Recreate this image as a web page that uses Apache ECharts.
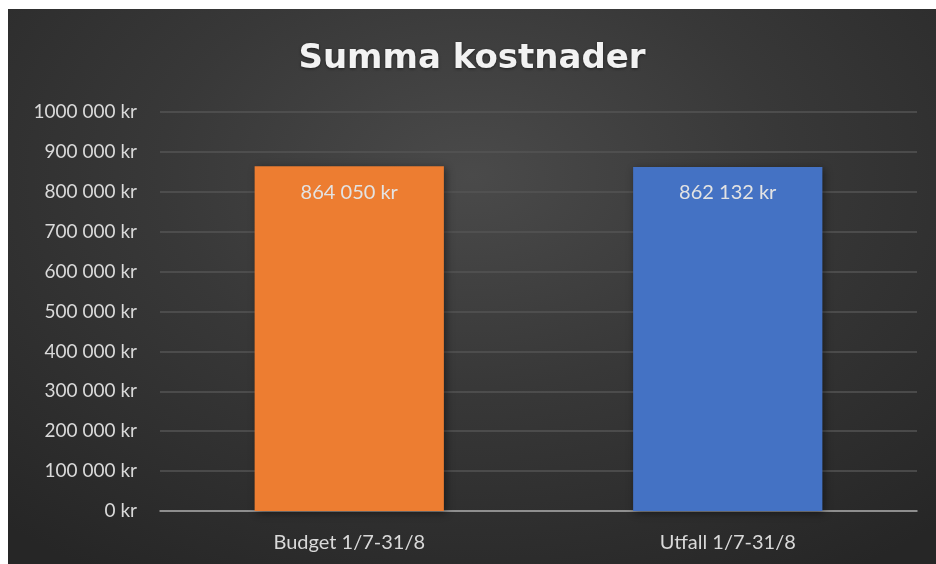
<!DOCTYPE html>
<html>
<head>
<meta charset="utf-8">
<script src="https://cdn.jsdelivr.net/npm/echarts@6/dist/echarts.min.js"></script>
<style>
  html, body { margin: 0; padding: 0; background: #fff; }
  #chart {
    position: absolute; left: 8px; top: 9px; width: 928px; height: 555px;
    background: radial-gradient(ellipse 75% 85% at 50% 30%, #4a4a4a 0%, #383838 45%, #262626 100%);
  }
</style>
</head>
<body>
<div id="chart"></div>
<script>
var categories = ["Budget 1/7-31/8", "Utfall 1/7-31/8"];
var values = [864050, 862132];
var barColors = ["#ed7d31", "#4472c4"];
var valueLabels = ["864 050 kr", "862 132 kr"];
var tickLabels = ["0 kr", "100 000 kr", "200 000 kr", "300 000 kr", "400 000 kr",
  "500 000 kr", "600 000 kr", "700 000 kr", "800 000 kr", "900 000 kr", "1000 000 kr"];
var titleText = "Summa kostnader";

var chart = echarts.init(document.getElementById("chart"));
var option = {
  backgroundColor: "transparent",
  title: {
    text: titleText,
    left: "center",
    top: 28,
    textStyle: {
      fontFamily: "DejaVu Sans",
      fontWeight: "bold",
      fontSize: 34,
      color: "#f2f2f2",
      textShadowColor: "rgba(0,0,0,0.5)",
      textShadowBlur: 3,
      textShadowOffsetY: 1
    }
  },
  grid: { left: 152, right: 19, top: 103, bottom: 53 },
  xAxis: {
    type: "category",
    data: categories,
    axisLine: { lineStyle: { color: "#a6a6a6", width: 1.5 } },
    axisTick: { show: false },
    axisLabel: {
      color: "#d9d9d9",
      fontFamily: "Lato",
      fontSize: 20,
      margin: 22
    }
  },
  yAxis: {
    type: "value",
    min: 0,
    max: 1000000,
    interval: 100000,
    axisLine: { show: false },
    axisTick: { show: false },
    splitLine: { lineStyle: { color: "#555555", width: 1.5 } },
    axisLabel: {
      color: "#d9d9d9",
      fontFamily: "Lato",
      fontSize: 19,
      margin: 23,
      formatter: function(v) { return tickLabels[Math.round(v / 100000)]; }
    }
  },
  series: [{
    type: "bar",
    barWidth: "50%",
    data: values.map(function(v, i) {
      return { value: v, itemStyle: { color: barColors[i] } };
    }),
    itemStyle: {
      shadowColor: "rgba(0,0,0,0.45)",
      shadowBlur: 8,
      shadowOffsetX: 2,
      shadowOffsetY: 2
    },
    label: {
      show: true,
      position: "insideTop",
      distance: 16,
      color: "#e3e3e3",
      fontFamily: "Lato",
      fontSize: 20,
      formatter: function(p) { return valueLabels[p.dataIndex]; }
    }
  }]
};
chart.setOption(option);
</script>
</body>
</html>
